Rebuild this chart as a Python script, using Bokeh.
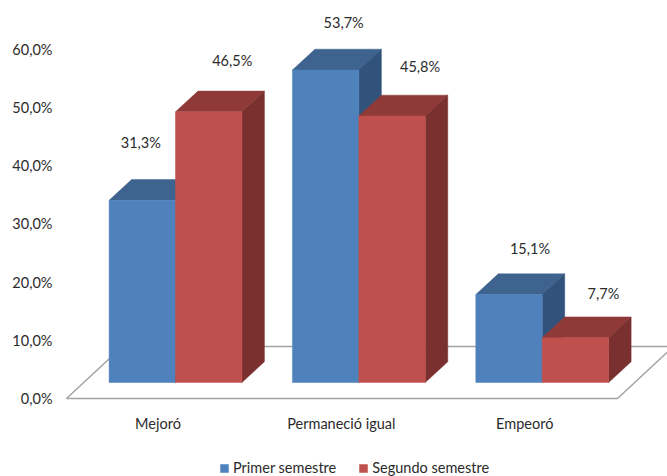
from bokeh.plotting import figure
from bokeh.models import Range1d, FixedTicker, Legend, LegendItem, ColumnDataSource
from bokeh.core.properties import value
from bokeh.embed import file_html
from bokeh.resources import INLINE

categories = ["Mejoró", "Permaneció igual", "Empeoró"]
series_names = ["Primer semestre", "Segundo semestre"]
primer = [31.3, 53.7, 15.1]
segundo = [46.5, 45.8, 7.7]
primer_labels = ["31,3%", "53,7%", "15,1%"]
segundo_labels = ["46,5%", "45,8%", "7,7%"]
y_ticks = [0, 10, 20, 30, 40, 50, 60]
y_tick_labels = ["0,0%", "10,0%", "20,0%", "30,0%", "40,0%", "50,0%", "60,0%"]

FONT = "Lato"
FS = "14.5px"
TXT = "#2b2b2b"
PX_X = 183.35   # px per category
PX_Y = 5.82     # px per percent
BAR_W = 66.4 / PX_X
DX = 22.5 / PX_X
DY = 20.75 / PX_Y
BASE = 16 / PX_Y
FDX = 56 / PX_X
FDY = 52 / PX_Y
F_L = (66 - 175) / PX_X
F_R = (617 - 175) / PX_X

p = figure(width=667, height=476, output_backend="svg", toolbar_location=None,
           x_range=Range1d((58 - 175) / PX_X, (667 - 175) / PX_X),
           y_range=Range1d(-78 / PX_Y, 398 / PX_Y),
           min_border_left=58, min_border_right=0, min_border_top=0, min_border_bottom=0,
           background_fill_color="white", border_fill_color="white", outline_line_color=None)
p.grid.visible = False

# floor
floor_color = "#a3a3a3"
p.line([F_L + FDX, F_L, F_R, F_R + FDX, F_L + FDX],
       [FDY, 0, 0, FDY, FDY], line_color=floor_color, line_width=1.5)


def bars(vals, offset, front, top, side):
    xs = [i + offset for i in range(len(vals))]
    tops = [BASE + v for v in vals]
    top_x = [[x - BAR_W / 2, x - BAR_W / 2 + DX, x + BAR_W / 2 + DX, x + BAR_W / 2] for x in xs]
    top_y = [[t, t + DY, t + DY, t] for t in tops]
    side_x = [[x + BAR_W / 2, x + BAR_W / 2 + DX, x + BAR_W / 2 + DX, x + BAR_W / 2] for x in xs]
    side_y = [[BASE, BASE + DY, t + DY, t] for t in tops]
    p.patches(top_x, top_y, fill_color=top, line_color=top, line_width=0.5)
    p.patches(side_x, side_y, fill_color=side, line_color=side, line_width=0.5)
    return p.vbar(x=xs, top=tops, bottom=BASE, width=BAR_W, fill_color=front, line_color=front, line_width=0.5), xs, tops


r1, x1, t1 = bars(primer, -BAR_W / 2, "#4F81BD", "#3E638F", "#31527A")
r2, x2, t2 = bars(segundo, BAR_W / 2, "#C0504D", "#8F3A38", "#7A302E")

# value labels
src = ColumnDataSource(dict(
    x=x1 + x2, y=t1 + t2, t=primer_labels + segundo_labels,
    dx=[-1.5, 18, 21, 23.5, 28, 28],
    dy=[-58, -47, -46, -51, -49, -44],
))
p.text("x", "y", text="t", x_offset="dx", y_offset="dy", source=src, text_align="center",
       text_baseline="middle", text_font=value(FONT), text_font_size=FS, text_color=TXT)

# axes
ya = p.yaxis[0]
ya.ticker = FixedTicker(ticks=y_ticks)
ya.major_label_overrides = dict(zip(y_ticks, y_tick_labels))
ya.axis_line_color = None
ya.major_tick_line_color = None
ya.minor_tick_line_color = None
ya.major_tick_out = 0
ya.major_tick_in = 0
ya.major_label_standoff = 6
ya.major_label_text_font = FONT
ya.major_label_text_font_size = FS
ya.major_label_text_color = TXT

LABEL_SHIFT = 17.5 / PX_X
x_ticks = [i - LABEL_SHIFT for i in range(len(categories))]
xa = p.xaxis[0]
xa.fixed_location = -4 / PX_Y
xa.ticker = FixedTicker(ticks=x_ticks)
xa.major_label_overrides = dict(zip(x_ticks, categories))
xa.axis_line_color = None
xa.major_tick_line_color = None
xa.minor_tick_line_color = None
xa.major_tick_out = 0
xa.major_tick_in = 0
xa.major_label_standoff = 12
xa.major_label_text_font = FONT
xa.major_label_text_font_size = FS
xa.major_label_text_color = TXT

legend = Legend(items=[LegendItem(label=series_names[0], renderers=[r1]),
                       LegendItem(label=series_names[1], renderers=[r2])],
                orientation="horizontal", location=(161, 0),
                background_fill_alpha=0, border_line_color=None,
                label_text_font=FONT, label_text_font_size=FS, label_text_color=TXT,
                glyph_width=10, glyph_height=10, spacing=22, padding=0, margin=0,
                label_standoff=4, label_height=14)
p.add_layout(legend)

open("out.html", "w").write(file_html(p, INLINE))
